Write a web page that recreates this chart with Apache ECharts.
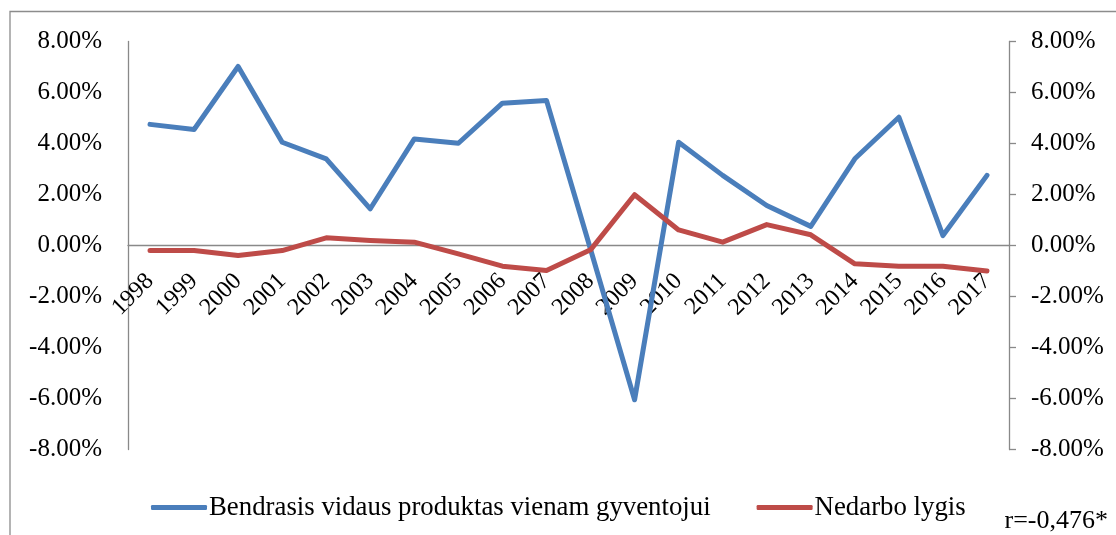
<!DOCTYPE html>
<html>
<head>
<meta charset="utf-8">
<script src="https://cdn.jsdelivr.net/npm/echarts@6/dist/echarts.min.js"></script>
<style>
    html, body { margin: 0; padding: 0; background: #fff; }
    #chart { width: 1116px; height: 535px; }
</style>
</head>
<body>
<div id="chart"></div>
<script>
    var years = ['1998', '1999', '2000', '2001', '2002', '2003', '2004', '2005', '2006', '2007',
                 '2008', '2009', '2010', '2011', '2012', '2013', '2014', '2015', '2016', '2017'];
    // BVP vienam gyventojui, pokytis %
    var gdp = [4.75, 4.55, 7.02, 4.05, 3.40, 1.44, 4.18, 4.01, 5.58, 5.69,
               -0.15, -6.05, 4.05, 2.75, 1.57, 0.75, 3.40, 5.03, 0.39, 2.75];
    // Nedarbo lygio pokytis %
    var unemp = [-0.20, -0.20, -0.39, -0.20, 0.30, 0.20, 0.13, -0.33, -0.81, -0.98,
                 -0.17, 1.99, 0.61, 0.13, 0.82, 0.42, -0.72, -0.81, -0.81, -1.00];
    var seriesNames = ['Bendrasis vidaus produktas vienam gyventojui', 'Nedarbo lygis'];
    var note = 'r=-0,476*';

    var font = 'Liberation Serif';
    var axisGray = '#898989';

    var gridTop = 41.5, gridBottom = 85.5;
    // x asis per nulį: perkeliam per pusę grid aukščio
    var zeroOffset = -(535 - gridTop - gridBottom) / 2;

    var pct = function (v) { return v.toFixed(2) + '%'; };

    var chart = echarts.init(document.getElementById('chart'));
    var option = {
        animation: false,
        backgroundColor: '#fff',
        grid: {
            left: 128,
            right: 107,
            top: gridTop,
            bottom: gridBottom
        },
        legend: {
            data: seriesNames,
            left: 146,
            top: 489,
            icon: 'roundRect',
            itemWidth: 56,
            itemHeight: 5,
            itemGap: 46,
            textStyle: {
                fontFamily: font,
                fontSize: 26.8,
                color: '#000',
                padding: [0, 0, 0, -3]
            }
        },
        xAxis: {
            type: 'category',
            data: years,
            boundaryGap: true,
            offset: zeroOffset,
            axisLine: {
                onZero: false,
                lineStyle: { color: axisGray, width: 1.3 }
            },
            axisTick: { show: false },
            axisLabel: {
                interval: 0,
                rotate: 45,
                margin: 32,
                align: 'right',
                verticalAlign: 'middle',
                fontFamily: font,
                fontSize: 24,
                color: '#000'
            },
            splitLine: { show: false }
        },
        yAxis: [
            {
                type: 'value',
                min: -8,
                max: 8,
                interval: 2,
                axisLine: { show: true, lineStyle: { color: axisGray, width: 1.3 } },
                axisTick: { show: false },
                splitLine: { show: false },
                axisLabel: {
                    margin: 26,
                    formatter: pct,
                    fontFamily: font,
                    fontSize: 25,
                    color: '#000'
                }
            },
            {
                type: 'value',
                position: 'right',
                min: -8,
                max: 8,
                interval: 2,
                axisLine: { show: true, lineStyle: { color: axisGray, width: 1.3 } },
                axisTick: { show: true, length: 7, lineStyle: { color: axisGray, width: 1.3 } },
                splitLine: { show: false },
                axisLabel: {
                    margin: 22,
                    formatter: pct,
                    fontFamily: font,
                    fontSize: 25,
                    color: '#000'
                }
            }
        ],
        series: [
            {
                name: seriesNames[0],
                type: 'line',
                data: gdp,
                yAxisIndex: 0,
                showSymbol: false,
                symbol: 'none',
                color: '#4A7EBB',
                lineStyle: { width: 5, color: '#4A7EBB', cap: 'round', join: 'round' }
            },
            {
                name: seriesNames[1],
                type: 'line',
                data: unemp,
                yAxisIndex: 1,
                showSymbol: false,
                symbol: 'none',
                color: '#BE4B48',
                lineStyle: { width: 5, color: '#BE4B48', cap: 'round', join: 'round' }
            }
        ],
        graphic: [
            {
                type: 'rect',
                shape: { x: 10, y: 11.5, width: 1200, height: 600 },
                style: { fill: 'none', stroke: '#8c8c8c', lineWidth: 1.3 },
                silent: true
            },
            {
                type: 'text',
                right: 8,
                top: 508,
                style: {
                    text: note,
                    fontFamily: font,
                    fontSize: 26,
                    fill: '#000'
                }
            }
        ]
    };
    chart.setOption(option);
</script>
</body>
</html>
